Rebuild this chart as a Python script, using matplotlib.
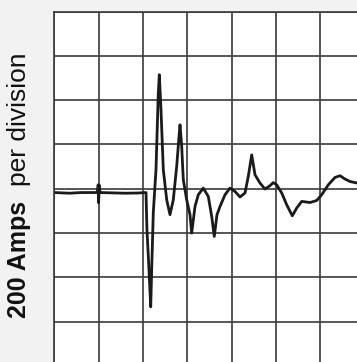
import matplotlib
matplotlib.use("Agg")
import matplotlib.pyplot as plt

# time axis in divisions, current in amps (200 A per division)
time_div = [0.0, 0.35, 0.6, 0.97, 0.99, 1.0, 1.014, 1.03, 1.6, 1.9, 2.069,
            2.09, 2.125, 2.175, 2.197, 2.233, 2.294, 2.346, 2.369, 2.407, 2.459,
            2.536, 2.610, 2.684, 2.761, 2.813, 2.836, 2.874, 2.910, 2.987, 3.061,
            3.099, 3.174, 3.248, 3.361, 3.474, 3.551, 3.609, 3.670, 3.738, 3.851,
            3.963, 4.076, 4.189, 4.302, 4.376, 4.453, 4.528, 4.640, 4.753, 4.865,
            4.940, 5.017, 5.130, 5.242, 5.369, 5.468, 5.581, 5.768, 5.919, 6.032,
            6.181, 6.332, 6.445, 6.557, 6.670, 6.828, 6.95]
current_amps = [-17, -20, -17, -17, 18, -63, 16, -17, -20, -19, -17,
                -185, -321, -533, -366, -108, 86, 433, 515, 357, 86,
                -50, -117, -50, 101, 236, 289, 191, 41, -50, -117,
                -200, -80, -27, 3, -35, -125, -215, -117, -80, -27,
                3, -12, -37, -19, 56, 153, 63, 26, -1, 14,
                28, 18, -19, -72, -122, -87, -57, -62, -53, -27,
                18, 51, 59, 44, 33, 26, 22]

x_divs = 7
y_min, y_max = -800, 800
amps_per_div = 200

fig = plt.figure(figsize=(3.57, 3.62), dpi=100, facecolor="#f2f2f2")
ax = fig.add_axes([0.1521, -0.011, 0.8692, 0.979])
ax.set_facecolor("white")

ax.plot(time_div, current_amps, color="#1a1a1a", lw=2.0, solid_joinstyle="round")

ax.set_xlim(0, x_divs)
ax.set_ylim(y_min, y_max)
ax.set_xticks(range(0, x_divs + 1))
ax.set_yticks(range(y_min, y_max + 1, amps_per_div))
ax.grid(True, color="#3a3a3a", lw=1.2)
ax.tick_params(length=0, labelleft=False, labelbottom=False)
for s in ax.spines.values():
    s.set_color("#3a3a3a")
    s.set_linewidth(1.2)

t1 = fig.text(0.052, 0.1215, "200 Amps", rotation=90, ha="center", va="bottom",
              family="Liberation Sans", weight="bold", fontsize=18, color="#111111")
ax.annotate("per division", xy=(0.5, 1.0), xycoords=t1, xytext=(0, 11),
            textcoords="offset points", rotation=90, ha="center", va="bottom",
            family="Liberation Sans", fontsize=19, color="#111111",
            annotation_clip=False)

fig.savefig("out.png", dpi=100, facecolor=fig.get_facecolor())
